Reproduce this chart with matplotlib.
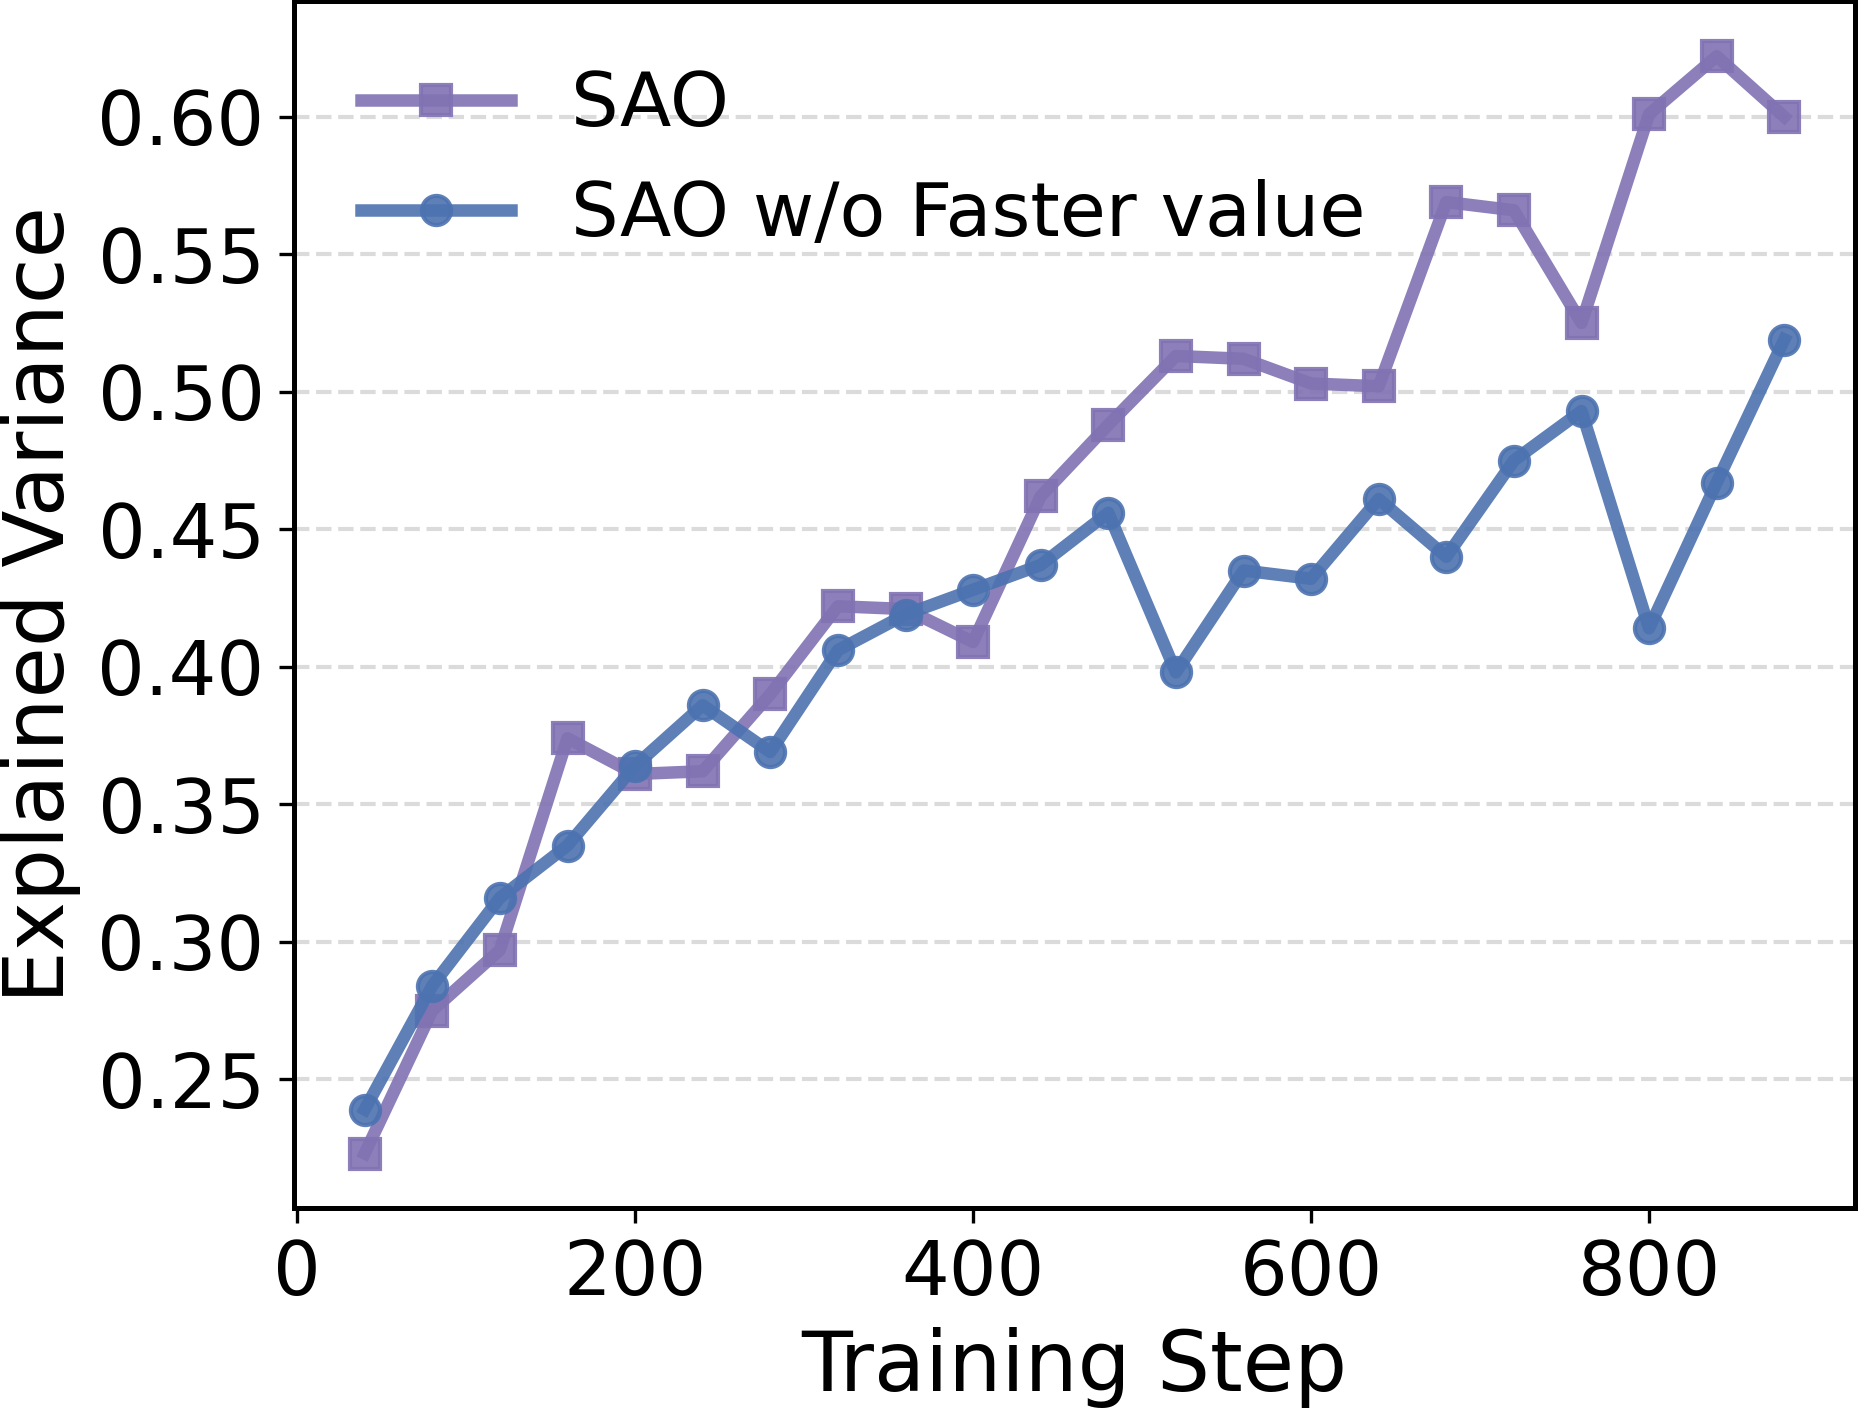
import matplotlib
matplotlib.use("Agg")
import matplotlib.pyplot as plt
import numpy as np

# training steps and explained variance
steps = [40, 80, 120, 160, 200, 240, 280, 320, 360, 400, 440,
         480, 520, 560, 600, 640, 680, 720, 760, 800, 840, 880]
sao = [0.223, 0.275, 0.297, 0.374, 0.361, 0.362, 0.390, 0.422, 0.421, 0.409, 0.462,
       0.488, 0.513, 0.512, 0.503, 0.502, 0.569, 0.566, 0.525, 0.601, 0.622, 0.600]
sao_no_fv = [0.239, 0.284, 0.316, 0.335, 0.364, 0.386, 0.369, 0.406, 0.419, 0.428, 0.437,
             0.456, 0.398, 0.435, 0.432, 0.461, 0.440, 0.475, 0.493, 0.414, 0.467, 0.519]

labels = ["SAO", "SAO w/o Faster value"]
colors = ["#8172b3", "#4c72b0"]
markers = ["s", "o"]
yticks = [0.25, 0.30, 0.35, 0.40, 0.45, 0.50, 0.55, 0.60]

fig = plt.figure(figsize=(1859 / 300, 1410 / 300), dpi=300)
ax = fig.add_axes([0.158, 0.143, 0.840, 0.856])

for ys, lab, c, m in zip([sao, sao_no_fv], labels, colors, markers):
    ax.plot(steps, ys, color=c, marker=m, markersize=7, linewidth=3,
            alpha=0.9, label=lab)

ax.set_xlabel("Training Step", fontsize=20)
ax.set_ylabel("Explained Variance", fontsize=20)
ax.tick_params(axis="both", labelsize=18)
ax.set_xticks([0, 200, 400, 600, 800])
ax.set_yticks(yticks)
ax.set_yticklabels([f"{t:.2f}" for t in yticks])
ax.yaxis.grid(True, linestyle="--", color="#cccccc", alpha=0.7, linewidth=1)
ax.set_axisbelow(True)
for sp in ax.spines.values():
    sp.set_linewidth(1.2)

ax.legend(loc="upper left", fontsize=18, frameon=False, labelspacing=0.5)

fig.savefig("out.png", dpi=300)
